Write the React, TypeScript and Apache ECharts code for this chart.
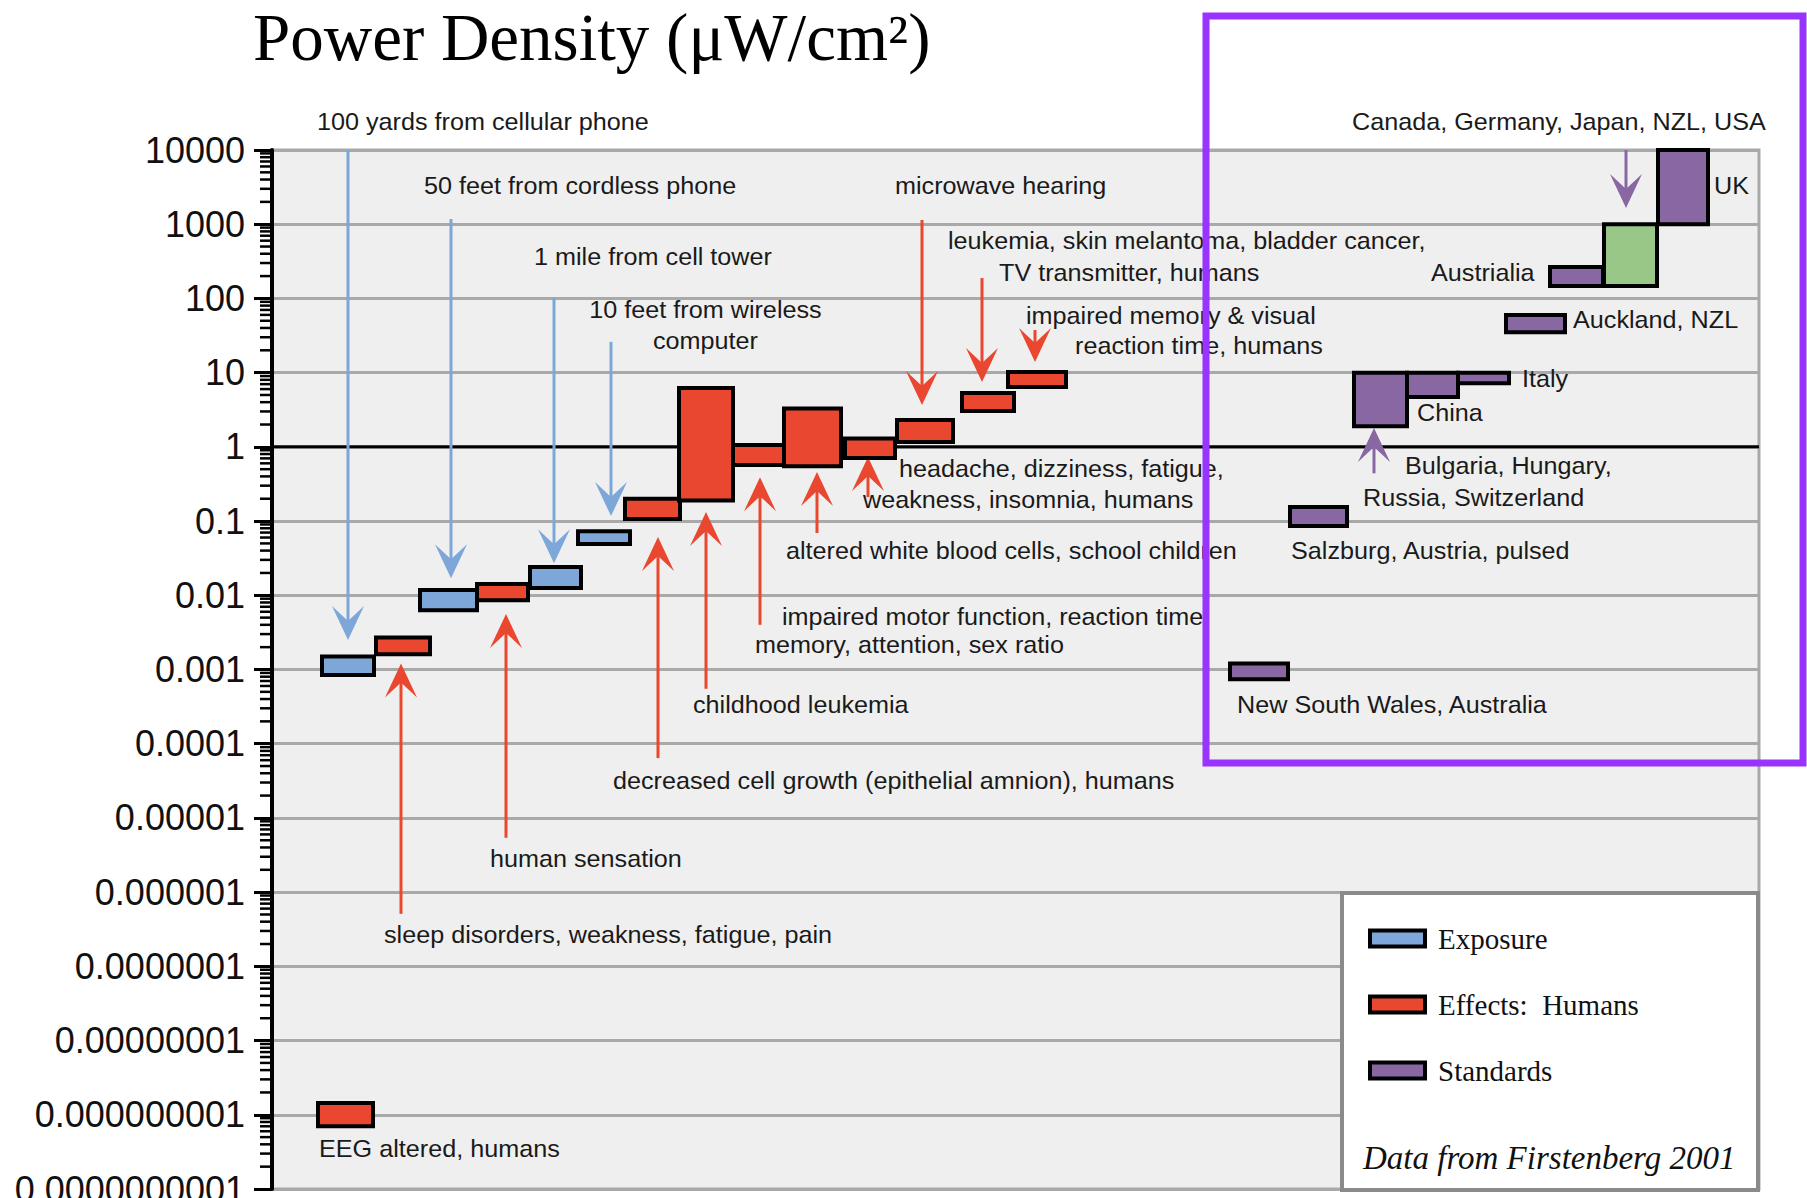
import React, { useEffect, useRef } from 'react';
import * as echarts from 'echarts';

// ---- axis (powers of ten, log scale) ----
const yTickLabels = [
  '10000', '1000', '100', '10', '1', '0.1', '0.01', '0.001', '0.0001', '0.00001',
  '0.000001', '0.0000001', '0.00000001', '0.000000001', '0.0000000001',
];
const Y_MIN_EXP = -10;
const Y_MAX_EXP = 4;
const X_MIN = 0.4;
const X_MAX = 149.1;

// ---- bars: [xStart, xEnd, low, high] (power density, µW/cm²) ----
const exposureBars = [
  [5.4, 10.6, 0.00084, 0.0015],
  [15.2, 20.9, 0.0063, 0.0118],
  [26.2, 31.3, 0.0125, 0.024],
  [31.0, 36.2, 0.049, 0.073],
];
const effectBars = [
  [5.0, 10.5, 7e-10, 1.44e-9],
  [10.8, 16.2, 0.0016, 0.0027],
  [20.9, 26.0, 0.0086, 0.0142],
  [35.7, 41.2, 0.107, 0.2],
  [41.1, 46.5, 0.19, 6.2],
  [46.5, 51.6, 0.57, 1.06],
  [51.6, 57.3, 0.55, 3.3],
  [57.7, 62.7, 0.71, 1.3],
  [62.9, 68.5, 1.16, 2.3],
  [69.4, 74.6, 3.04, 5.3],
  [74.0, 79.8, 6.4, 10.2],
];
const standardBars = [
  [96.2, 102.0, 0.00074, 0.0012],
  [102.2, 107.9, 0.086, 0.155],
  [108.6, 113.9, 1.9, 10],
  [113.9, 119.0, 4.7, 10],
  [119.0, 124.1, 7.2, 10],
  [123.8, 129.7, 35, 60],
  [128.2, 133.5, 147, 265],
  [139.0, 144.0, 1000, 10000],
];
const internationalBars = [[133.6, 138.9, 147, 1000]];

// ---- arrows: [x, tail value, tip value] ----
const exposureArrows = [
  [8.0, 10000, 0.0025],
  [18.3, 1175, 0.017],
  [28.6, 104, 0.027],
  [34.3, 26, 0.117],
];
const effectArrows = [
  [13.3, 5.1e-7, 0.0012],
  [23.8, 5.4e-6, 0.0056],
  [39.0, 6.4e-5, 0.061],
  [43.8, 5.5e-4, 0.132],
  [49.2, 0.004, 0.39],
  [54.9, 0.069, 0.46],
  [60.0, 0.21, 0.73],
  [65.4, 1140, 3.66],
  [71.4, 188, 7.5],
  [76.7, 37.5, 13.9],
];
const standardArrows = [
  [135.8, 10000, 1650],
  [110.6, 0.44, 1.8],
];

// ---- annotation labels: [text, x, y, align] ----
const exposureLabels: [string, number, number, string][] = [
  ['100 yards from cellular phone', 4.9, 23800, 'left'],
  ['50 feet from cordless phone', 15.6, 3270, 'left'],
  ['1 mile from cell tower', 26.6, 361, 'left'],
  ['10 feet from wireless', 43.75, 69.8, 'center'],
  ['computer', 43.75, 26.7, 'center'],
];
const effectLabels: [string, number, number, string][] = [
  ['microwave hearing', 62.7, 3270, 'left'],
  ['leukemia, skin melantoma, bladder cancer,', 68.0, 594, 'left'],
  ['TV transmitter, humans', 73.1, 220, 'left'],
  ['impaired memory & visual', 75.8, 57.9, 'left'],
  ['reaction time, humans', 80.7, 22.9, 'left'],
  ['headache, dizziness, fatigue,', 63.1, 0.502, 'left'],
  ['weakness, insomnia, humans', 59.5, 0.192, 'left'],
  ['altered white blood cells, school children', 51.8, 0.0395, 'left'],
  ['impaired motor function, reaction time,', 51.4, 0.00509, 'left'],
  ['memory, attention, sex ratio', 48.7, 0.00214, 'left'],
  ['childhood leukemia', 42.5, 0.000332, 'left'],
  ['decreased cell growth (epithelial amnion), humans', 34.5, 3.14e-5, 'left'],
  ['human sensation', 22.2, 2.79e-6, 'left'],
  ['sleep disorders, weakness, fatigue, pain', 11.6, 2.64e-7, 'left'],
  ['EEG altered, humans', 5.1, 3.45e-10, 'left'],
];
const standardLabels: [string, number, number, string][] = [
  ['Canada, Germany, Japan, NZL, USA', 108.4, 23800, 'left'],
  ['UK', 144.6, 3270, 'left'],
  ['Austrialia', 116.3, 220, 'left'],
  ['Auckland, NZL', 130.5, 51.2, 'left'],
  ['Italy', 125.4, 8.2, 'left'],
  ['China', 114.9, 2.86, 'left'],
  ['Bulgaria, Hungary,', 113.7, 0.552, 'left'],
  ['Russia, Switzerland', 109.5, 0.205, 'left'],
  ['Salzburg, Austria, pulsed', 102.3, 0.0395, 'left'],
  ['New South Wales, Australia', 96.9, 0.000332, 'left'],
];

const legendNames = ['Exposure', 'Effects:  Humans', 'Standards'];

const BLUE = '#7da7d9';
const RED = '#e9472f';
const PURPLE = '#8867a3';
const GREEN = '#99c787';

const SANS = 'Liberation Sans, Arial, sans-serif';
const SERIF = 'Liberation Serif, Times New Roman, serif';

const lg = (v: number) => Math.log10(v);

function minorTickExps(): number[] {
  const out: number[] = [];
  for (let e = Y_MIN_EXP; e < Y_MAX_EXP; e++) {
    for (let m = 2; m <= 9; m++) out.push(e + Math.log10(m));
  }
  return out;
}

function barSeries(name: string, data: number[][], color: string) {
  return {
    type: 'custom',
    name,
    data: data.map((d) => [d[0], d[1], lg(d[2]), lg(d[3])]),
    z: 5,
    clip: false,
    silent: true,
    encode: { x: [0, 1], y: [2, 3] },
    itemStyle: { color, borderColor: '#000', borderWidth: 4 },
    renderItem: (params: any, api: any) => {
      const a = api.coord([api.value(0), api.value(3)]);
      const b = api.coord([api.value(1), api.value(2)]);
      return {
        type: 'rect',
        shape: { x: a[0], y: a[1], width: b[0] - a[0], height: b[1] - a[1] },
        style: { fill: color, stroke: '#000', lineWidth: 4 },
      };
    },
  };
}

function arrowSeries(name: string, data: number[][], color: string) {
  return {
    type: 'custom',
    name,
    data: data.map((d) => [d[0], lg(d[1]), lg(d[2])]),
    z: 4,
    clip: false,
    silent: true,
    encode: { x: 0, y: [1, 2] },
    renderItem: (params: any, api: any) => {
      const p0 = api.coord([api.value(0), api.value(1)]);
      const p1 = api.coord([api.value(0), api.value(2)]);
      const d = p1[1] > p0[1] ? 1 : -1;
      return {
        type: 'group',
        children: [
          {
            type: 'line',
            shape: { x1: p0[0], y1: p0[1], x2: p1[0], y2: p1[1] - d * 15 },
            style: { stroke: color, lineWidth: 3 },
          },
          {
            type: 'polygon',
            shape: {
              points: [
                [p1[0], p1[1]],
                [p1[0] - 16, p1[1] - d * 34],
                [p1[0], p1[1] - d * 19],
                [p1[0] + 16, p1[1] - d * 34],
              ],
            },
            style: { fill: color },
          },
        ],
      };
    },
  };
}

function labelSeries(name: string, labels: [string, number, number, string][]) {
  return {
    type: 'custom',
    name,
    data: labels.map((l) => [l[1], lg(l[2])]),
    z: 6,
    clip: false,
    silent: true,
    encode: { x: 0, y: 1 },
    renderItem: (params: any, api: any) => {
      const p = api.coord([api.value(0), api.value(1)]);
      const l = labels[params.dataIndex];
      return {
        type: 'text',
        x: p[0],
        y: p[1],
        scaleX: 1.05,
        style: {
          text: l[0],
          fontFamily: SANS,
          fontSize: 24,
          fill: '#1a1a1a',
          align: l[3],
          verticalAlign: 'middle',
        },
      };
    },
  };
}

export default function App() {
  const ref = useRef<HTMLDivElement>(null);
  useEffect(() => {
    const chart = echarts.init(ref.current as HTMLDivElement, null, { renderer: 'svg' });
    const minors = minorTickExps();
    chart.setOption({
      animation: false,
      backgroundColor: '#ffffff',
      title: {
        text: 'Power Density (μW/cm²)',
        left: 253,
        top: 3,
        padding: 0,
        textStyle: { fontFamily: SERIF, fontSize: 67, fontWeight: 'normal', color: '#000' },
      },
      grid: {
        left: 272,
        top: 150,
        width: 1487,
        height: 1039,
        show: true,
        backgroundColor: '#efefef',
        borderColor: '#a9a9a9',
        borderWidth: 3,
        containLabel: false,
        outerBoundsMode: 'none',
      },
      xAxis: { type: 'value', min: X_MIN, max: X_MAX, show: false },
      yAxis: {
        type: 'value',
        min: Y_MIN_EXP,
        max: Y_MAX_EXP,
        interval: 1,
        axisLine: { show: true, onZero: false, lineStyle: { color: '#000', width: 4 } },
        axisTick: { show: true, length: 18, lineStyle: { color: '#000', width: 3 } },
        axisLabel: {
          show: true,
          showMinLabel: true,
          showMaxLabel: true,
          fontFamily: SANS,
          fontSize: 36,
          color: '#111',
          margin: 27,
          padding: [0, 0, 6, 0],
          formatter: (v: number) => yTickLabels[Y_MAX_EXP - Math.round(v)] ?? '',
        },
        splitLine: { show: true, lineStyle: { color: '#a9a9a9', width: 3 } },
      },
      legend: {
        orient: 'vertical',
        left: 1363,
        top: 919,
        itemWidth: 55,
        itemHeight: 16,
        itemGap: 37,
        icon: 'rect',
        selectedMode: false,
        z: 10,
        textStyle: { fontFamily: SERIF, fontSize: 29, color: '#111', padding: [0, 0, 0, 8] },
        data: [
          { name: legendNames[0], itemStyle: { color: BLUE, borderColor: '#000', borderWidth: 4 } },
          { name: legendNames[1], itemStyle: { color: RED, borderColor: '#000', borderWidth: 4 } },
          { name: legendNames[2], itemStyle: { color: PURPLE, borderColor: '#000', borderWidth: 4 } },
        ],
      },
      graphic: {
        elements: [
          {
            type: 'rect',
            z: 8,
            shape: { x: 1342, y: 893, width: 416, height: 297 },
            style: { fill: '#ffffff', stroke: '#8a8a8a', lineWidth: 4 },
          },
          {
            type: 'text',
            z: 12,
            x: 1363,
            y: 1158,
            style: {
              text: 'Data from Firstenberg 2001',
              fontFamily: SERIF,
              fontStyle: 'italic',
              fontSize: 33,
              fill: '#111',
              verticalAlign: 'middle',
            },
          },
          {
            type: 'rect',
            z: 100,
            shape: { x: 1206, y: 16, width: 597, height: 747 },
            style: { fill: 'none', stroke: '#9933ff', lineWidth: 7 },
          },
        ],
      },
      series: [
        {
          type: 'line',
          name: 'unity',
          data: [[X_MIN, 0], [X_MAX, 0]],
          symbol: 'none',
          silent: true,
          z: 3,
          lineStyle: { color: '#000', width: 3 },
        },
        {
          type: 'custom',
          name: 'minor ticks',
          data: minors.map((v) => [X_MIN, v]),
          z: 3,
          clip: false,
          silent: true,
          encode: { x: 0, y: 1 },
          renderItem: (params: any, api: any) => {
            const p = api.coord([X_MIN, api.value(1)]);
            return {
              type: 'line',
              shape: { x1: p[0] - 12, y1: p[1], x2: p[0], y2: p[1] },
              style: { stroke: '#000', lineWidth: 2.5 },
            };
          },
        },
        arrowSeries('exposure arrows', exposureArrows, BLUE),
        arrowSeries('effect arrows', effectArrows, RED),
        arrowSeries('standard arrows', standardArrows, PURPLE),
        barSeries(legendNames[0], exposureBars, BLUE),
        barSeries(legendNames[1], effectBars, RED),
        barSeries(legendNames[2], standardBars, PURPLE),
        barSeries('Standards (national)', internationalBars, GREEN),
        labelSeries('exposure labels', exposureLabels),
        labelSeries('effect labels', effectLabels),
        labelSeries('standard labels', standardLabels),
      ],
    });
    return () => chart.dispose();
  }, []);
  return (
    <div
      ref={ref}
      style={{ position: 'fixed', left: 0, top: 0, width: 1807, height: 1198, background: '#fff' }}
    />
  );
}
